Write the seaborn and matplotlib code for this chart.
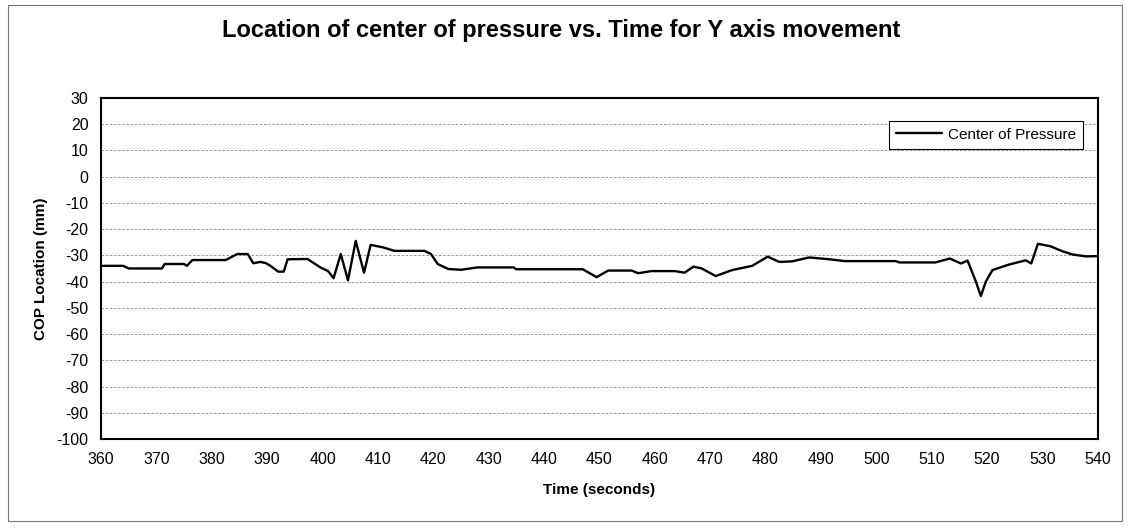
import matplotlib
matplotlib.use("Agg")
import matplotlib.pyplot as plt
import seaborn as sns
import pandas as pd
from matplotlib.patches import Rectangle

# values (time in s, COP in mm)
time_s = [360, 364, 365, 371, 371.5, 375, 375.5, 376.5, 382.5, 384.6, 386.5,
          387.5, 388.8, 389.8, 390.6, 392, 393, 393.7, 397.3, 399.7, 401, 402,
          403.3, 404.6, 406, 407.5, 408.7, 411, 413, 418.4, 419.6, 420.8, 422.7,
          425, 428, 434.5, 435, 447, 449.5, 451.6, 455.8, 457, 459.4, 463.6,
          465.4, 467, 468.5, 471, 474, 477.6, 480.4, 482.5, 484.8, 487.9, 491.5,
          494.4, 503.5, 504.2, 510.7, 513.3, 515.3, 516.5, 518, 518.9, 519.8,
          521, 524, 527, 528, 529.2, 531.4, 533.7, 535.5, 537.9, 540]
cop_mm = [-34, -34, -35, -35, -33.3, -33.3, -34, -31.8, -31.8, -29.5, -29.5,
          -33, -32.5, -33, -34, -36.2, -36.2, -31.5, -31.4, -34.7, -36, -38.7,
          -29.5, -39.5, -24.5, -36.6, -26, -27, -28.3, -28.3, -29.5, -33.3, -35.2,
          -35.5, -34.6, -34.6, -35.3, -35.3, -38.3, -35.8, -35.8, -36.8, -36, -36,
          -36.6, -34.3, -35, -37.9, -35.6, -34, -30.5, -32.5, -32.3, -30.8, -31.5,
          -32.2, -32.2, -32.7, -32.7, -31.2, -33.1, -32, -40, -45.5, -40,
          -35.6, -33.5, -31.9, -33.1, -25.6, -26.5, -28.5, -29.7, -30.4, -30.3]
x_ticks = list(range(360, 541, 10))
y_ticks = list(range(-100, 31, 10))

sns.set_style("white")
plt.rcParams['font.family'] = ['Liberation Sans', 'DejaVu Sans']
plt.rcParams['axes.unicode_minus'] = False
plt.rcParams['text.color'] = 'black'
plt.rcParams['axes.labelcolor'] = 'black'
plt.rcParams['xtick.color'] = 'black'
plt.rcParams['ytick.color'] = 'black'

df = pd.DataFrame({"Time": time_s, "COP": cop_mm})

fig = plt.figure(figsize=(11.3, 5.29), dpi=100)
ax = fig.add_axes([0.0894, 0.170, 0.882, 0.645])

sns.lineplot(data=df, x="Time", y="COP", color="black", linewidth=1.7,
             label="Center of Pressure", ax=ax)

ax.set_xlim(360, 540)
ax.set_ylim(-100, 30)
ax.set_xticks(x_ticks)
ax.set_yticks(y_ticks)
ax.tick_params(axis="both", labelsize=11.5, length=4, width=0.8,
               direction="out", color="black", labelcolor="black", pad=5)
ax.yaxis.grid(True, color="#888888", linestyle=(0, (3, 2)), linewidth=0.6)
ax.xaxis.grid(False)
for s in ax.spines.values():
    s.set_color("black")
    s.set_linewidth(1.5)
    s.set_visible(True)

ax.set_xlabel("Time (seconds)", fontsize=11, fontweight="bold", labelpad=12)
ax.set_ylabel("COP Location (mm)", fontsize=11, fontweight="bold", labelpad=6)
fig.suptitle("Location of center of pressure vs. Time for Y axis movement",
             x=0.497, y=0.965, fontsize=17, fontweight="bold", color="black")

leg = ax.legend(loc="upper right", bbox_to_anchor=(0.993, 0.955), fontsize=11,
                frameon=True, fancybox=False, framealpha=1, edgecolor="black",
                handlelength=3.0, borderpad=0.45, handletextpad=0.4)
leg.get_frame().set_linewidth(0.8)

# outer chart border
fig.patches.append(Rectangle((0.007, 0.015), 0.986, 0.975, transform=fig.transFigure,
                             fill=False, edgecolor="#777777", linewidth=0.8))

fig.savefig("out.png", dpi=100)
plt.close(fig)
